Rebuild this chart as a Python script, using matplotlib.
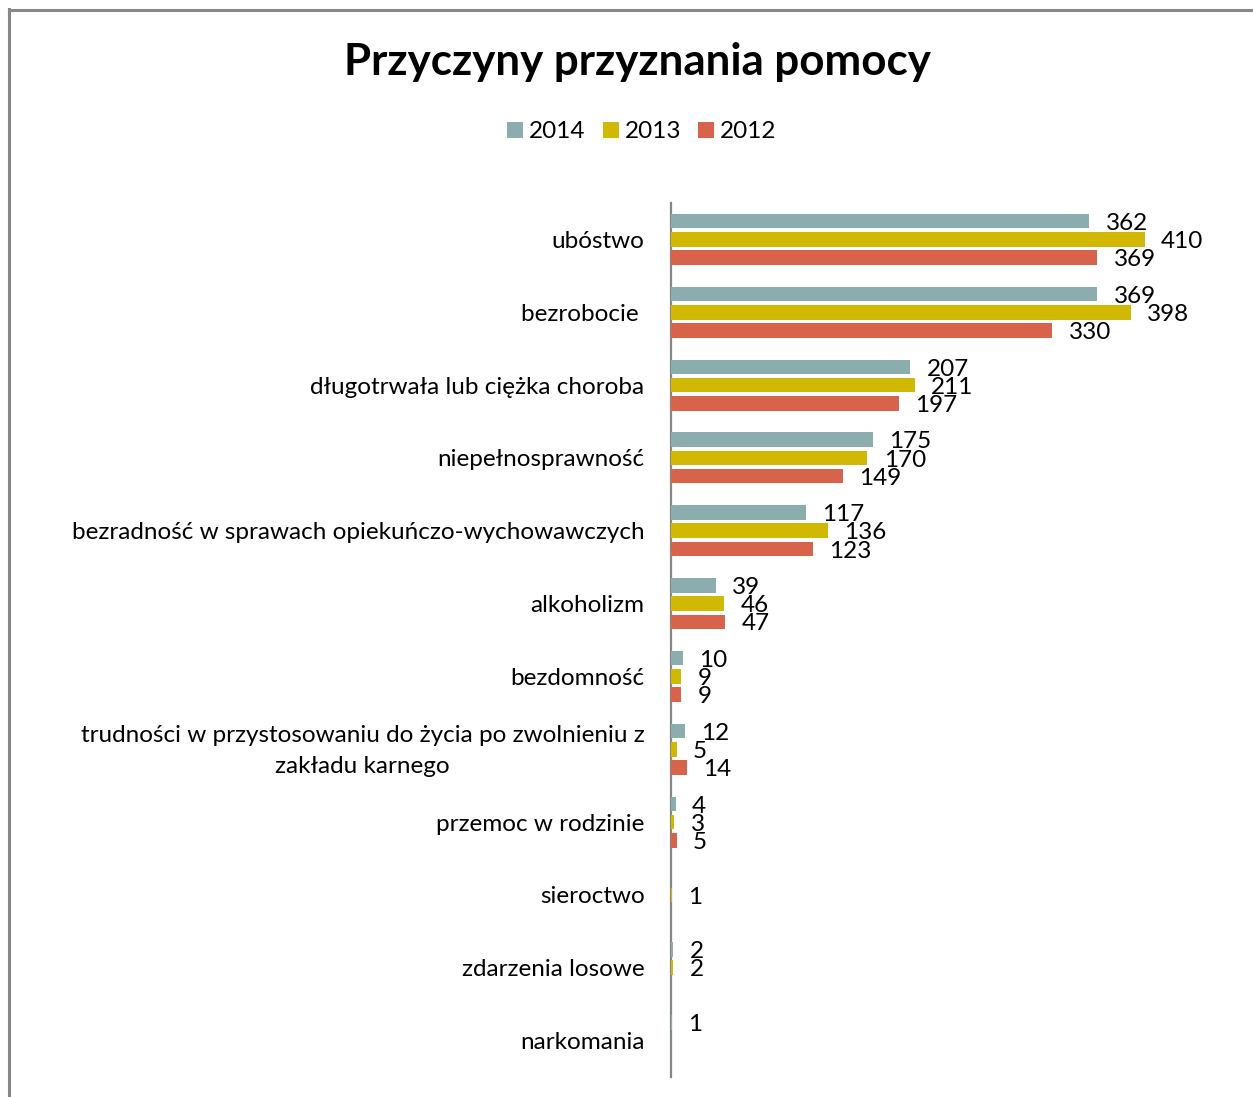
import matplotlib
matplotlib.use("Agg")
import matplotlib.pyplot as plt
import matplotlib.transforms as mtransforms
import numpy as np
from matplotlib.lines import Line2D
from matplotlib.patches import Patch

categories = [
    "ubóstwo",
    "bezrobocie ",
    "długotrwała lub ciężka choroba",
    "niepełnosprawność",
    "bezradność w sprawach opiekuńczo-wychowawczych",
    "alkoholizm",
    "bezdomność",
    "trudności w przystosowaniu do życia po zwolnieniu z\nzakładu karnego",
    "przemoc w rodzinie",
    "sieroctwo",
    "zdarzenia losowe",
    "narkomania",
]
years = ["2014", "2013", "2012"]
v2014 = [362, 369, 207, 175, 117, 39, 10, 12, 4, None, 2, 1]
v2013 = [410, 398, 211, 170, 136, 46, 9, 5, 3, 1, 2, None]
v2012 = [369, 330, 197, 149, 123, 47, 9, 14, 5, None, None, None]
colors = ["#8CADAE", "#D1B802", "#D6634A"]

plt.rcParams['font.family'] = ['Lato', 'DejaVu Sans']

W, H = 1253, 1097
fig = plt.figure(figsize=(W / 100, H / 100), dpi=100)

# border lines
fig.add_artist(Line2D([9 / W, 9 / W], [0, 1 - 9 / H], color="#878787", lw=2.2))
fig.add_artist(Line2D([9 / W, 1], [1 - 10 / H, 1 - 10 / H], color="#878787", lw=2.2))

x0, x1 = 671, 1191
y0, y1 = 203, 1077
ax = fig.add_axes([x0 / W, 1 - y1 / H, (x1 - x0) / W, (y1 - y0) / H])

n = len(categories)
y = np.arange(n)
bh = 0.2
offs = [-0.25, 0.0, 0.25]
series = [v2014, v2013, v2012]
for s, vals in enumerate(series):
    for i, v in enumerate(vals):
        if v is None:
            continue
        ax.barh(y[i] + offs[s], v, height=bh, color=colors[s], edgecolor="none", zorder=3)
        ax.text(v + 14, y[i] + offs[s] + 0.03, str(v), va="center", ha="left",
                fontsize=17.5, color="black")

ax.set_xlim(0, 450)
ax.set_ylim(n - 0.5, -0.5)
ax.set_yticks(y)
ax.set_yticklabels(categories, fontsize=17.5, multialignment="center", linespacing=1.6)
ax.tick_params(axis="y", length=0, pad=19)
ax.set_xticks([])
for sp in ["top", "right", "bottom"]:
    ax.spines[sp].set_visible(False)
ax.spines["left"].set_color("#878787")
ax.spines["left"].set_linewidth(1.6)
ax.spines["left"].set_zorder(2)

# nudge the two-line label up slightly
for lbl in ax.get_yticklabels():
    if "\n" in lbl.get_text():
        lbl.set_transform(lbl.get_transform() +
                          mtransforms.ScaledTranslation(0, 5 / 100, fig.dpi_scale_trans))

fig.text(637 / W, 1 - 62 / H, "Przyczyny przyznania pomocy", ha="center", va="center",
         fontsize=31.6, fontweight="bold")

handles = [Patch(facecolor=c, edgecolor="none") for c in colors]
fig.legend(handles, years, loc="center", bbox_to_anchor=(642 / W, 1 - 132 / H), ncol=3,
           frameon=False, fontsize=17.5, handlelength=0.65, handleheight=0.65,
           handletextpad=0.25, columnspacing=0.7)

fig.savefig("out.png", dpi=100)
